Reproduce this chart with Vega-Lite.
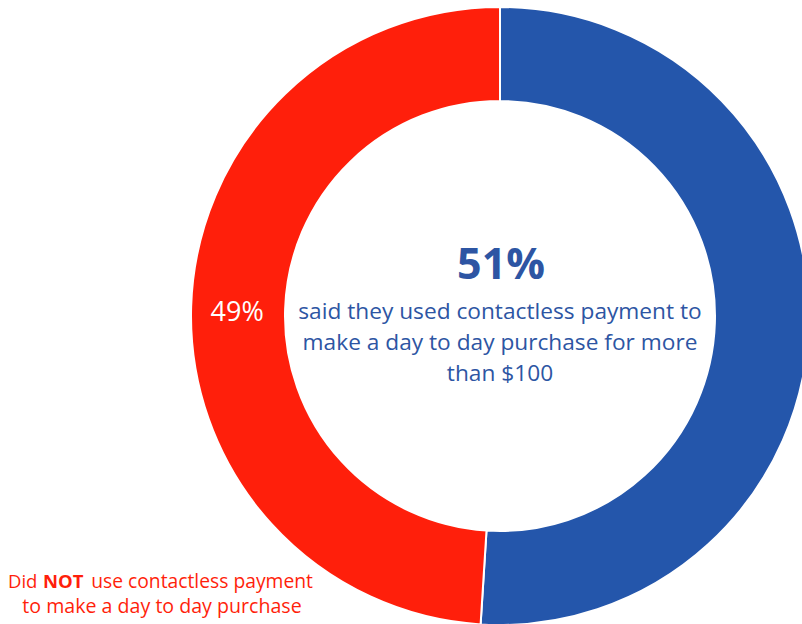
{
  "$schema": "https://vega.github.io/schema/vega-lite/v6.json",
  "width": 802,
  "height": 624,
  "padding": 0,
  "autosize": {"type": "none"},
  "background": "white",
  "config": {"view": {"stroke": null}, "font": "Open Sans"},
  "datasets": {
    "donut": [
      {"category": "Used contactless", "value": 51, "label": "51%", "rank": 1},
      {"category": "Did not use", "value": 49, "label": "49%", "rank": 2}
    ]
  },
  "layer": [
    {
      "data": {"name": "donut"},
      "mark": {"type": "arc", "x": 500, "y": 316, "innerRadius": 215, "outerRadius": 309, "stroke": "white", "strokeWidth": 2},
      "encoding": {
        "theta": {"field": "value", "type": "quantitative", "stack": true},
        "order": {"field": "rank", "type": "quantitative"},
        "color": {"field": "category", "type": "nominal", "legend": null,
          "scale": {"domain": ["Used contactless", "Did not use"], "range": ["#2456AB", "#FF1F0B"]}}
      }
    },
    {
      "data": {"name": "donut"},
      "mark": {"type": "text", "x": 500, "y": 316, "radius": 263, "dy": 5, "fontSize": 27, "color": "white", "align": "center", "baseline": "middle"},
      "encoding": {
        "theta": {"field": "value", "type": "quantitative", "stack": true},
        "order": {"field": "rank", "type": "quantitative"},
        "text": {"condition": {"test": "datum.rank == 2", "field": "label"}, "value": ""}
      }
    },
    {
      "data": {"values": [{"t": "51%"}]},
      "mark": {"type": "text", "x": 501, "y": 266, "fontSize": 43, "fontWeight": "bold", "color": "#2D55A3", "align": "center", "baseline": "middle"},
      "encoding": {"text": {"field": "t"}}
    },
    {
      "data": {"values": [{}]},
      "mark": {"type": "text", "x": 500, "y": 312, "fontSize": 22.7, "lineHeight": 31, "color": "#2D55A3", "align": "center", "baseline": "middle",
        "text": ["said they used contactless payment to", "make a day to day purchase for more", "than $100"]}
    },
    {
      "data": {"values": [{}]},
      "mark": {"type": "text", "x": 8, "y": 582, "fontSize": 18.5, "color": "#FF1F0B", "align": "left", "baseline": "middle", "text": "Did"}
    },
    {
      "data": {"values": [{}]},
      "mark": {"type": "text", "x": 43, "y": 582, "fontSize": 18.5, "fontWeight": "bold", "color": "#FF1F0B", "align": "left", "baseline": "middle", "text": "NOT"}
    },
    {
      "data": {"values": [{}]},
      "mark": {"type": "text", "x": 313, "y": 582, "fontSize": 19.3, "color": "#FF1F0B", "align": "right", "baseline": "middle", "text": "use contactless payment"}
    },
    {
      "data": {"values": [{}]},
      "mark": {"type": "text", "x": 162, "y": 607, "fontSize": 19.6, "color": "#FF1F0B", "align": "center", "baseline": "middle", "text": "to make a day to day purchase"}
    }
  ]
}
